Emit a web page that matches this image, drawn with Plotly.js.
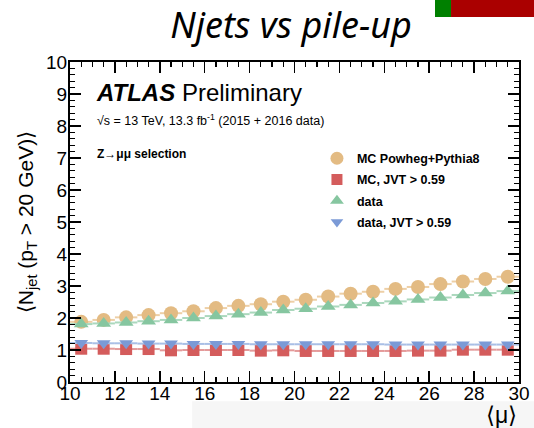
<!DOCTYPE html>
<html>
<head>
<meta charset="utf-8">
<script src="https://cdn.plot.ly/plotly-3.0.1.min.js"></script>
<style>
  html, body { margin: 0; padding: 0; background: #fff; }
  #chart { width: 534px; height: 428px; }
</style>
</head>
<body>
<div id="chart"></div>
<script>
// Bin centres in <mu> (1-unit bins from 10 to 30)
const mu = [10.5, 11.5, 12.5, 13.5, 14.5, 15.5, 16.5, 17.5, 18.5, 19.5,
            20.5, 21.5, 22.5, 23.5, 24.5, 25.5, 26.5, 27.5, 28.5, 29.5];

// Mean jet multiplicity (pT > 20 GeV) per bin
const mcPowheg = [1.88, 1.94, 2.02, 2.09, 2.15, 2.21, 2.31, 2.38, 2.43, 2.51,
                  2.57, 2.67, 2.76, 2.82, 2.91, 2.97, 3.06, 3.14, 3.22, 3.29];
const mcJvt    = [1.04, 1.04, 1.03, 1.03, 0.99, 1.00, 1.00, 1.00, 0.98, 0.99,
                  0.97, 0.97, 0.97, 0.97, 0.97, 0.98, 0.98, 1.01, 1.01, 1.01];
const data     = [1.81, 1.83, 1.86, 1.90, 1.94, 2.00, 2.06, 2.12, 2.17, 2.25,
                  2.29, 2.36, 2.41, 2.47, 2.52, 2.58, 2.64, 2.72, 2.78, 2.84];
const dataJvt  = [1.22, 1.21, 1.21, 1.20, 1.20, 1.19, 1.19, 1.19, 1.18, 1.18,
                  1.18, 1.18, 1.18, 1.18, 1.17, 1.17, 1.17, 1.17, 1.17, 1.17];

const seriesNames = ['MC Powheg+Pythia8', 'MC, JVT > 0.59', 'data', 'data, JVT > 0.59'];

const HELV = 'Liberation Sans, Arial, Helvetica, sans-serif';

function series(y, name, symbol, size, color, barColor) {
  return {
    x: mu, y: y, name: name, type: 'scatter', mode: 'markers',
    marker: { symbol: symbol, size: size, color: color },
    error_x: { type: 'constant', value: 0.5, width: 0, thickness: 2, color: barColor },
    showlegend: false, hoverinfo: 'x+y'
  };
}

// Legend-only entries (markers without bin-width bars)
function legendEntry(name, symbol, size, color, group) {
  return {
    x: [null], y: [null], name: name, type: 'scatter', mode: 'markers',
    marker: { symbol: symbol, size: size, color: color },
    legendgroup: group, showlegend: true
  };
}

const style = [
  { sym: 'circle',        size: 14, color: '#e3bb83', bar: '#edcfa6' },
  { sym: 'square',        size: 12, color: '#d45c5c', bar: '#e49a9a' },
  { sym: 'triangle-up',   size: 13, color: '#86c6a0', bar: '#abd8bd' },
  { sym: 'triangle-down', size: 12, color: '#7b9ad6', bar: '#a9bfe6' }
];
const ys = [mcPowheg, mcJvt, data, dataJvt];

const traces = [];
ys.forEach((y, i) => traces.push(series(y, seriesNames[i], style[i].sym, style[i].size, style[i].color, style[i].bar)));
ys.forEach((y, i) => traces.push(legendEntry(seriesNames[i], style[i].sym, style[i].size - 1, style[i].color, 'g' + i)));

const axisCommon = {
  showline: true, linecolor: '#000', linewidth: 2,
  mirror: 'allticks', ticks: 'inside', tickcolor: '#000', tickwidth: 1.5,
  showgrid: false, zeroline: false,
  tickfont: { family: HELV, size: 19, color: '#000' }
};

const layout = {
  width: 534, height: 428,
  margin: { l: 70, r: 15, t: 62, b: 46 },
  paper_bgcolor: '#fff', plot_bgcolor: '#fff',
  title: {
    text: '<i>Njets vs pile-up</i>',
    font: { family: 'Noto Sans, sans-serif', size: 36, color: '#000' },
    x: 0.545, xanchor: 'center', y: 0.94, yanchor: 'middle'
  },
  xaxis: Object.assign({}, axisCommon, {
    range: [10, 30], dtick: 2, tick0: 10, ticklen: 11,
    minor: { dtick: 0.5, ticklen: 5, ticks: 'inside', tickcolor: '#000', tickwidth: 1.2 },
    ticklabelstandoff: -7
  }),
  yaxis: Object.assign({}, axisCommon, {
    range: [0, 10], dtick: 1, tick0: 0, ticklen: 11,
    minor: { dtick: 0.2, ticklen: 5, ticks: 'inside', tickcolor: '#000', tickwidth: 1.2 },
    ticklabelstandoff: -3,
    title: {
      text: '\u27E8N<sub>jet</sub> (p<sub>T</sub> > 20 GeV)\u27E9',
      font: { family: HELV, size: 21, color: '#000' },
      standoff: 7
    }
  }),
  legend: {
    x: 0.55, xanchor: 'left', y: 0.745, yanchor: 'top',
    bgcolor: 'rgba(0,0,0,0)', borderwidth: 0,
    font: { family: HELV, size: 12.5, color: '#000', weight: 'bold' },
    itemwidth: 30, tracegroupgap: 2
  },
  annotations: [
    { xref: 'paper', yref: 'paper', x: 0.053, y: 0.905, xanchor: 'left', yanchor: 'middle',
      text: '<b><i>ATLAS</i></b> Preliminary', showarrow: false,
      font: { family: HELV, size: 24, color: '#000' } },
    { xref: 'paper', yref: 'paper', x: 0.055, y: 0.818, xanchor: 'left', yanchor: 'middle',
      text: '\u221As = 13 TeV, 13.3 fb<sup>-1</sup> (2015 + 2016 data)', showarrow: false,
      font: { family: HELV, size: 12.5, color: '#000' } },
    { xref: 'paper', yref: 'paper', x: 0.055, y: 0.713, xanchor: 'left', yanchor: 'middle',
      text: '<b>Z\u2192\u03BC\u03BC selection</b>', showarrow: false,
      font: { family: HELV, size: 12, color: '#000' } },
    { xref: 'paper', yref: 'paper', x: 1.0, y: -0.103, xanchor: 'right', yanchor: 'middle',
      text: '\u27E8\u03BC\u27E9', showarrow: false,
      font: { family: HELV, size: 23, color: '#000' } }
  ],
  shapes: [
    // corner marker in the page header
    { type: 'rect', xref: 'paper', yref: 'paper', x0: 0.8129, x1: 0.8486, y0: 1.1406, y1: 1.2, layer: 'below',
      fillcolor: '#008000', line: { width: 0 } },
    { type: 'rect', xref: 'paper', yref: 'paper', x0: 0.8486, x1: 1.04, y0: 1.1406, y1: 1.2, layer: 'below',
      fillcolor: '#aa0000', line: { width: 0 } },
    // faint footer band
    { type: 'rect', xref: 'paper', yref: 'paper', x0: 0.272, x1: 1.04, y0: -0.145, y1: -0.06, layer: 'below',
      fillcolor: '#f6f6f6', line: { width: 0 } }
  ]
};

Plotly.newPlot('chart', traces, layout, { displayModeBar: false, staticPlot: true });
</script>
</body>
</html>
